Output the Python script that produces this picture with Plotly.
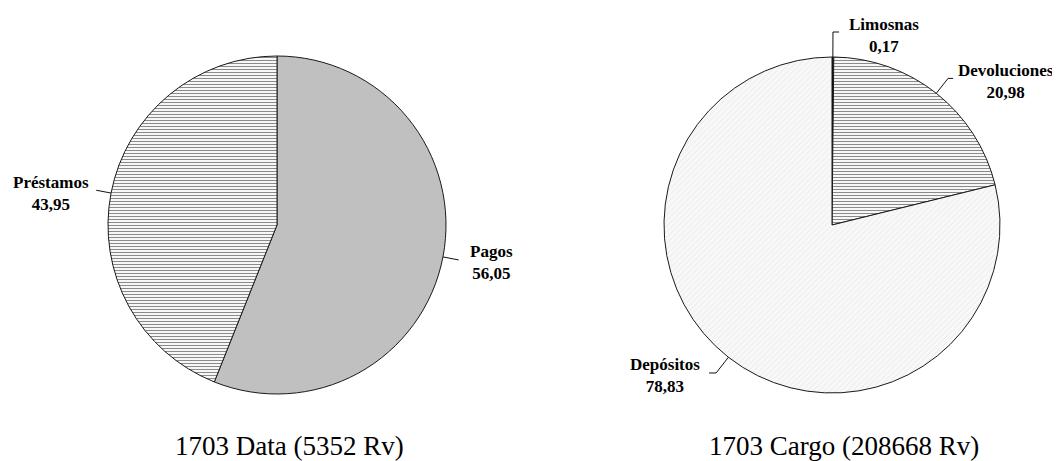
import math

import plotly.graph_objects as go

# the page keeps its default 8px body margin, so the figure is drawn
# 8px smaller and every position below is given in window pixels minus 8
OFF = 8
W, H = 1060 - OFF, 461 - OFF

data_labels = ["Pagos", "Préstamos"]
data_values = [56.05, 43.95]

cargo_labels = ["Limosnas", "Devoluciones", "Depósitos"]
cargo_values = [0.17, 20.98, 78.83]

titles = ["1703 Data (5352 Rv)", "1703 Cargo (208668 Rv)"]

FONT = "Liberation Serif, Times New Roman, serif"

hlines = dict(shape="-", size=3, solidity=0.34, fgcolor="#8a8a8a", bgcolor="#f7f7f7")
dots = dict(shape="/", size=4, solidity=0.2, fgcolor="#e6e6e6", bgcolor="#f8f8f8")
solid = dict(shape="")


def px(x, y):
    # window pixel -> paper fraction
    return (x - OFF) / W, 1 - (y - OFF) / H


def domain_from(left, right, top, bottom):
    x0, y1 = px(left, top)
    x1, y0 = px(right, bottom)
    return [x0, x1], [y0, y1]


domains = [domain_from(108, 446, 56, 394), domain_from(664, 1000, 56, 394)]

# leader line: radial length, horizontal length, gap to text (px)
leaders = {
    "Pagos": (16, 0, 9),
    "Préstamos": (15, 0, 5),
    "Limosnas": (25, 6, 8),
    "Devoluciones": (19, 5, 3),
    "Depósitos": (20, 7, 7),
}


def pie_trace(labels, values, colors, patterns, domain):
    return go.Pie(
        labels=labels,
        values=values,
        sort=False,
        direction="clockwise",
        rotation=0,
        textinfo="none",
        hoverinfo="label+value",
        marker=dict(colors=colors, pattern=dict(
            shape=[p["shape"] for p in patterns],
            size=[p.get("size", 8) for p in patterns],
            solidity=[p.get("solidity", 0.3) for p in patterns],
            fgcolor=[p.get("fgcolor", "#000") for p in patterns],
            bgcolor=[p.get("bgcolor", c) for p, c in zip(patterns, colors)],
        ), line=dict(color="#1a1a1a", width=1)),
        domain=dict(x=domain[0], y=domain[1]),
    )


def label_items(labels, values, domain):
    (x0, x1), (y0, y1) = domain
    cx = (x0 + x1) / 2 * W + OFF
    cy = (1 - (y0 + y1) / 2) * H + OFF
    r = min((x1 - x0) * W, (y1 - y0) * H) / 2
    total = sum(values)
    shapes, annos = [], []
    cum = 0
    for lab, val in zip(labels, values):
        a = (cum + val / 2) / total * 2 * math.pi
        cum += val
        s, c = math.sin(a), math.cos(a)
        rad, hor, gap = leaders[lab]
        side = 1 if s >= 0 else -1
        e = px(cx + r * s, cy - r * c)
        bx, by = cx + (r + rad) * s, cy - (r + rad) * c
        b = px(bx, by)
        t = px(bx + side * hor, by)
        path = "M {:.4f},{:.4f} L {:.4f},{:.4f} L {:.4f},{:.4f}".format(*e, *b, *t)
        shapes.append(dict(type="path", xref="paper", yref="paper", path=path,
                           line=dict(color="#111", width=1)))
        text = "<b>{}</b><br><b>{}</b>".format(lab, "{:.2f}".format(val).replace(".", ","))
        ax, ay = px(bx + side * (hor + gap), by + 3)
        annos.append(dict(
            text=text, xref="paper", yref="paper", x=ax, y=ay,
            xanchor="left" if side > 0 else "right", yanchor="middle", align="center",
            showarrow=False, font=dict(family=FONT, size=17, color="#000"),
        ))
    return shapes, annos


fig = go.Figure()
fig.add_trace(pie_trace(data_labels, data_values, ["#c0c0c0", "#f7f7f7"], [solid, hlines], domains[0]))
fig.add_trace(pie_trace(cargo_labels, cargo_values, ["#000000", "#f7f7f7", "#f4f4f4"],
                        [solid, hlines, dots], domains[1]))

shapes, annos = [], []
for labs, vals, dom in [(data_labels, data_values, domains[0]), (cargo_labels, cargo_values, domains[1])]:
    s, a = label_items(labs, vals, dom)
    shapes += s
    annos += a

for title, x in zip(titles, [289, 844]):
    tx, ty = px(x, 446)
    annos.append(dict(text=title, xref="paper", yref="paper", x=tx, y=ty,
                      xanchor="center", yanchor="middle", showarrow=False, borderpad=0,
                      font=dict(family=FONT, size=27, color="#000")))

fig.update_layout(
    width=W,
    height=H,
    margin=dict(l=0, r=0, t=0, b=0),
    paper_bgcolor="white",
    plot_bgcolor="white",
    showlegend=False,
    shapes=shapes,
    annotations=annos,
)

fig.write_html("out.html")
